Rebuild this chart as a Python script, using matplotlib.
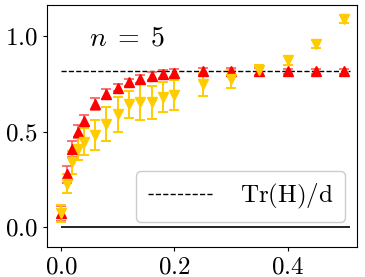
import matplotlib.pyplot as plt

plt.rcParams['mathtext.fontset'] = 'cm'
plt.rcParams['font.family'] = ['cmr10', 'DejaVu Serif']
plt.rcParams['axes.formatter.use_mathtext'] = True

# Data
x = [0.0, 0.01, 0.02, 0.03, 0.04, 0.06, 0.08, 0.10, 0.12, 0.14, 0.16, 0.18, 0.20,
     0.25, 0.30, 0.35, 0.40, 0.45, 0.50]
red_y = [0.073, 0.277, 0.41, 0.50, 0.556, 0.644, 0.696, 0.73, 0.757, 0.775, 0.79, 0.80, 0.806,
         0.815, 0.815, 0.815, 0.815, 0.815, 0.815]
red_err = [0.04, 0.044, 0.04, 0.035, 0.03, 0.03, 0.025, 0.02, 0.02, 0.02, 0.02, 0.02, 0.02,
           0.02, 0.02, 0.02, 0.015, 0.015, 0.015]
yel_y = [0.073, 0.228, 0.34, 0.41, 0.447, 0.482, 0.54, 0.59, 0.644, 0.653, 0.653, 0.682, 0.69,
         0.749, 0.775, 0.82, 0.872, 0.958, 1.089]
yel_err = [0.045, 0.05, 0.06, 0.06, 0.07, 0.077, 0.09, 0.09, 0.07, 0.094, 0.088, 0.08, 0.078,
           0.06, 0.045, 0.03, 0.025, 0.02, 0.02]
trace_level = 0.815
xticks = [0.0, 0.2, 0.4]
xtick_labels = ['$0.0$', '$0.2$', '$0.4$']
yticks = [0.0, 0.5, 1.0]
ytick_labels = ['$0.0$', '$0.5$', '$1.0$']

fig = plt.figure(figsize=(3.65, 2.77), dpi=100)
ax = fig.add_axes([0.129, 0.108, 0.850, 0.874])

ax.hlines(0.0, 0.0, 0.51, color='black', lw=1.2)
ax.hlines(trace_level, 0.0, 0.51, color='black', lw=1.0, linestyles='--',
          label=r'$\mathrm{Tr(H)/d}$')

ax.errorbar(x, red_y, yerr=red_err, fmt='^', color='red', ecolor='#ff5a5a',
            markersize=7, capsize=3.5, elinewidth=1.2, capthick=1.2)
ax.errorbar(x, yel_y, yerr=yel_err, fmt='v', color='#ffcc00', ecolor='#ffcc00',
            markersize=7, capsize=3.5, elinewidth=1.4, capthick=1.4)

ax.text(0.135, 0.862, r'$n\;=\;5$', transform=ax.transAxes, fontsize=20,
        va='center', ha='left')

ax.set_xlim(-0.0245, 0.523)
ax.set_ylim(-0.103, 1.162)
ax.set_xticks(xticks)
ax.set_xticklabels(xtick_labels)
ax.set_yticks(yticks)
ax.set_yticklabels(ytick_labels)
ax.tick_params(labelsize=18, length=3)

ax.legend(loc='lower right', bbox_to_anchor=(0.961, 0.103), borderaxespad=0,
          fontsize=18, handlelength=2.6, handletextpad=1.1, borderpad=0.45,
          framealpha=1)

plt.savefig('out.png', dpi=100)
